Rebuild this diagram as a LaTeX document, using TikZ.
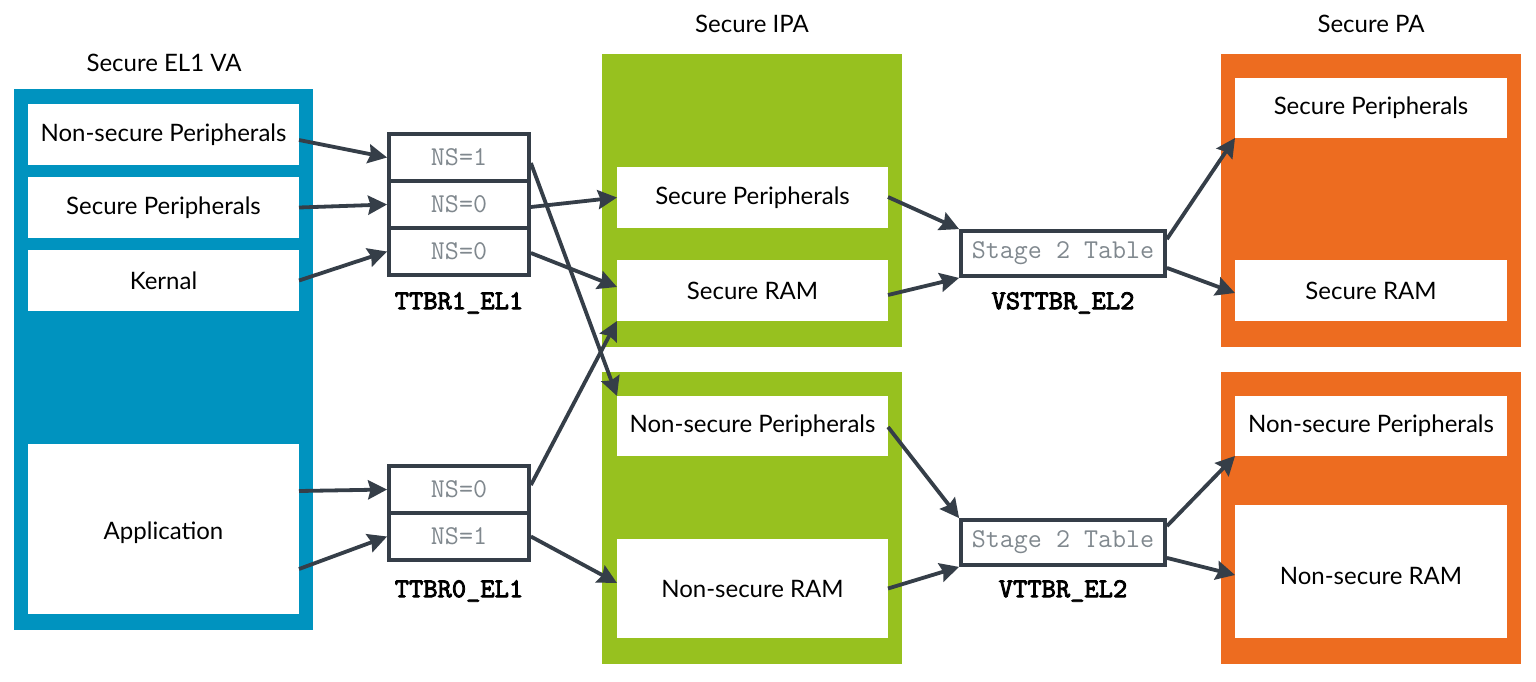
\documentclass[tikz,border=0pt]{standalone}
\usepackage{fontspec}
\setmainfont{Lato}
\newfontfamily\bmono[FakeBold=3]{lmmono10-regular.otf}
\usetikzlibrary{arrows.meta}
\definecolor{vablue}{RGB}{0,147,191}
\definecolor{ipagreen}{RGB}{151,193,31}
\definecolor{paorange}{RGB}{237,108,32}
\definecolor{dark}{RGB}{53,62,72}
\definecolor{monogray}{RGB}{128,136,142}
\begin{document}
\begin{tikzpicture}[x=0.5pt,y=-0.5pt,
  lbl/.style={font=\fontsize{12pt}{14pt}\selectfont, text=black, inner sep=0pt},
  region/.style={inner sep=0pt, outer sep=0pt},
  wbox/.style={fill=white, inner sep=0pt, outer sep=0pt, minimum width=135.5pt,
    font=\fontsize{12pt}{14pt}\selectfont, text=black},
  nsrow/.style={draw=dark, line width=1.9pt, fill=white, inner sep=0pt,
    minimum width=70pt, minimum height=23.5pt, text=monogray,
    font=\ttfamily\fontsize{13.6pt}{15pt}\selectfont},
  s2box/.style={draw=dark, line width=1.9pt, fill=white, inner sep=0pt,
    minimum width=102pt, minimum height=22.5pt, text=monogray,
    font=\ttfamily\fontsize{13.6pt}{15pt}\selectfont},
  reglbl/.style={font=\bmono\fontsize{13.6pt}{15pt}\selectfont, text=black, inner sep=0pt},
  arr/.style={draw=dark, line width=1.9pt, -{Stealth[length=9.5pt,width=9.5pt,inset=1.2pt]}}]
\useasboundingbox (0,0) rectangle (1536,681);
\fill[white] (0,0) rectangle (1536,681);

% ---------- Secure EL1 VA ----------
\node[lbl] (tva) at (164,63) {Secure EL1 VA};
\node[region, fill=vablue, minimum width=149.5pt, minimum height=270.5pt] (va) at (163.5,359.5) {};
\node[wbox, minimum height=30.5pt] (vansp) at (163.5,134.5) {Non-secure Peripherals};
\node[wbox, minimum height=30.5pt] (vasp) at (163.5,207.5) {Secure Peripherals};
\node[wbox, minimum height=30.5pt] (vak) at (163.5,280.5) {Kernal};
\node[wbox, minimum height=85pt] (vaapp) at (163.5,529) {};
\node[lbl] (vaappt) at (163.5,533) {Application};

% ---------- TTBR tables ----------
\node[nsrow] (t1a) at (459,157.5) {NS=1};
\node[nsrow] (t1b) at (459,204.5) {NS=0};
\node[nsrow] (t1c) at (459,251.5) {NS=0};
\node[reglbl] (t1l) at (459,303) {TTBR1\_EL1};
\node[nsrow] (t0a) at (459,489.5) {NS=0};
\node[nsrow] (t0b) at (459,536.5) {NS=1};
\node[reglbl] (t0l) at (459,591) {TTBR0\_EL1};

% ---------- Secure IPA ----------
\node[lbl] (tipa) at (752,24) {Secure IPA};
\node[region, fill=ipagreen, minimum width=150pt, minimum height=146.5pt] (ipau) at (752,200.5) {};
\node[region, fill=ipagreen, minimum width=150pt, minimum height=146pt] (ipal) at (752,518) {};
\node[wbox, minimum height=30.5pt] (ipasp) at (752.5,197.5) {Secure Peripherals};
\node[wbox, minimum height=30.5pt] (ipasram) at (752.5,290.5) {Secure RAM};
\node[wbox, minimum height=30pt] (ipansp) at (752.5,426) {Non-secure Peripherals};
\node[wbox, minimum height=49.5pt] (ipansram) at (752.5,588.5) {Non-secure RAM};

% ---------- Stage 2 tables ----------
\node[s2box] (s2a) at (1063,253.5) {Stage 2 Table};
\node[reglbl] (s2al) at (1063,303) {VSTTBR\_EL2};
\node[s2box] (s2b) at (1063,542.5) {Stage 2 Table};
\node[reglbl] (s2bl) at (1063,591) {VTTBR\_EL2};

% ---------- Secure PA ----------
\node[lbl] (tpa) at (1371,24) {Secure PA};
\node[region, fill=paorange, minimum width=150pt, minimum height=146.5pt] (pau) at (1371,200.5) {};
\node[region, fill=paorange, minimum width=150pt, minimum height=146pt] (pal) at (1371,518) {};
\node[wbox, minimum width=136pt, minimum height=30pt] (pasp) at (1371,108) {Secure Peripherals};
\node[wbox, minimum width=136pt, minimum height=30.5pt] (pasram) at (1371,290.5) {Secure RAM};
\node[wbox, minimum width=136pt, minimum height=30pt] (pansp) at (1371,426) {Non-secure Peripherals};
\node[wbox, minimum width=136pt, minimum height=66.5pt] (pansram) at (1371,571.5) {};
\node[lbl] (pansramt) at (1371,576) {Non-secure RAM};

% ---------- connectors: VA -> TTBR ----------
\draw[arr] ([yshift=-2.75pt]vansp.east) -- (t1a.west);
\draw[arr] (vasp.east) -- (t1b.west);
\draw[arr] (vak.east) -- (t1c.west);
\draw[arr] ([yshift=19pt]vaapp.east) -- (t0a.west);
\draw[arr] ([yshift=-20pt]vaapp.east) -- (t0b.west);

% ---------- TTBR -> IPA ----------
\draw[arr] ([yshift=-2.75pt]t1a.east) -- (ipansp.north west);
\draw[arr] ([yshift=-1.25pt]t1b.east) -- (ipasp.west);
\draw[arr] ([yshift=-0.75pt]t1c.east) -- ([yshift=1.75pt]ipasram.west);
\draw[arr] ([yshift=2.25pt]t0a.east) -- (ipasram.south west);
\draw[arr] (t0b.east) -- ([yshift=2.75pt]ipansram.west);

% ---------- IPA -> Stage 2 ----------
\draw[arr] ([yshift=0.25pt]ipasp.east) -- (s2a.north west);
\draw[arr] ([yshift=-2.25pt]ipasram.east) -- (s2a.south west);
\draw[arr] ([yshift=-0.5pt]ipansp.east) -- (s2b.north west);
\draw[arr] (ipansram.east) -- (s2b.south west);

% ---------- Stage 2 -> PA ----------
\draw[arr] ([yshift=-5pt]s2a.north east) -- (pasp.south west);
\draw[arr] ([yshift=5pt]s2a.south east) -- ([yshift=-1.25pt]pasram.west);
\draw[arr] ([yshift=-4pt]s2b.north east) -- (pansp.south west);
\draw[arr] ([yshift=4.5pt]s2b.south east) -- ([yshift=-1.75pt]pansram.west);
\end{tikzpicture}
\end{document}
